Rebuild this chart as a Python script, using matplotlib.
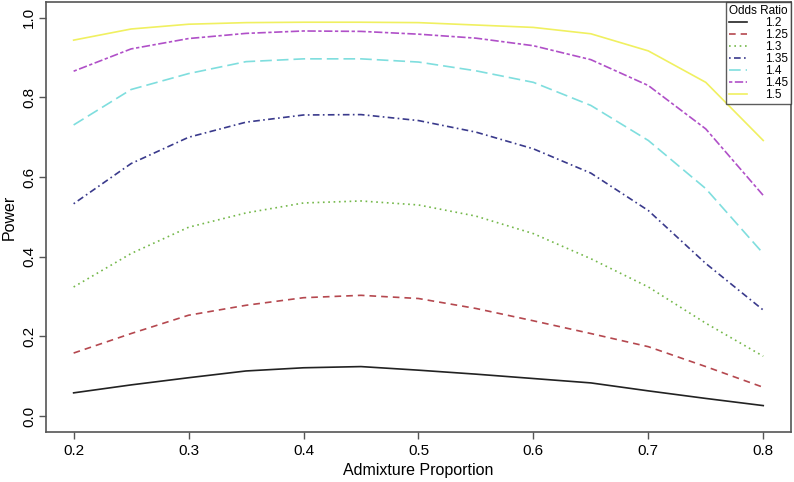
import numpy as np
import matplotlib.pyplot as plt

plt.rcParams['font.family'] = ['Liberation Sans', 'DejaVu Sans']

# -------------------------
# DATA
# -------------------------
admixture = [0.2, 0.25, 0.3, 0.35, 0.4, 0.45, 0.5, 0.55, 0.6, 0.65, 0.7, 0.75, 0.8]
odds_ratios = ["1.2", "1.25", "1.3", "1.35", "1.4", "1.45", "1.5"]

power_12 = [0.058, 0.078, 0.096, 0.113, 0.121, 0.124, 0.115, 0.105, 0.094, 0.083, 0.063, 0.044, 0.026]
power_125 = [0.158, 0.207, 0.253, 0.278, 0.297, 0.303, 0.295, 0.270, 0.239, 0.207, 0.174, 0.124, 0.072]
power_13 = [0.324, 0.408, 0.474, 0.510, 0.535, 0.540, 0.530, 0.502, 0.458, 0.395, 0.324, 0.233, 0.150]
power_135 = [0.533, 0.634, 0.700, 0.738, 0.756, 0.757, 0.742, 0.713, 0.671, 0.610, 0.516, 0.383, 0.266]
power_14 = [0.731, 0.820, 0.860, 0.890, 0.897, 0.897, 0.889, 0.867, 0.838, 0.780, 0.692, 0.571, 0.408]
power_145 = [0.866, 0.922, 0.948, 0.961, 0.967, 0.966, 0.959, 0.949, 0.930, 0.895, 0.830, 0.721, 0.554]
power_15 = [0.944, 0.972, 0.984, 0.988, 0.989, 0.989, 0.988, 0.982, 0.976, 0.960, 0.917, 0.838, 0.692]

series = [power_12, power_125, power_13, power_135, power_14, power_145, power_15]

# -------------------------
# STYLE
# -------------------------
colors = ["#222222", "#b5484f", "#74b84a", "#3a3a8c", "#7fdede", "#b050c8", "#f0f060"]
styles = ["-", (0, (4, 3)), (0, (1, 2.2)), (0, (1, 2, 4, 2)), (0, (7, 3)), (0, (2, 1.5, 5, 1.5)), "-"]

fig = plt.figure(figsize=(7.94, 4.82), dpi=100)
ax = fig.add_axes([0.058, 0.104, 0.938, 0.892])

for vals, col, ls, lab in zip(series, colors, styles, odds_ratios):
    ax.plot(admixture, vals, color=col, linestyle=ls, linewidth=1.2, label=lab)

ax.set_xlim(0.176, 0.824)
ax.set_ylim(-0.04, 1.04)
ax.set_xticks([0.2, 0.3, 0.4, 0.5, 0.6, 0.7, 0.8])
ax.set_xticklabels(["0.2", "0.3", "0.4", "0.5", "0.6", "0.7", "0.8"])
ax.set_yticks([0.0, 0.2, 0.4, 0.6, 0.8, 1.0])
ax.set_yticklabels(["0.0", "0.2", "0.4", "0.6", "0.8", "1.0"], rotation=90, va="center")

for s in ax.spines.values():
    s.set_color("#555555")
    s.set_linewidth(1.2)
ax.tick_params(direction="out", length=5, width=1, color="#555555", labelsize=11)
ax.tick_params(axis="y", pad=2)

ax.set_xlabel("Admixture Proportion", fontsize=11.5, labelpad=4)
ax.set_ylabel("Power", fontsize=11.5)
ax.yaxis.set_label_coords(-0.040, 0.5)

leg = ax.legend(title="Odds Ratio", loc="upper right", bbox_to_anchor=(1.0, 1.0),
                fontsize=8.5, title_fontsize=8.5, frameon=True, fancybox=False,
                borderaxespad=0, handlelength=1.5, handletextpad=1.5,
                labelspacing=0.0, borderpad=0.25)
leg.get_frame().set_edgecolor("#333333")
leg.get_frame().set_linewidth(1.0)

fig.savefig("out.png", dpi=100)
